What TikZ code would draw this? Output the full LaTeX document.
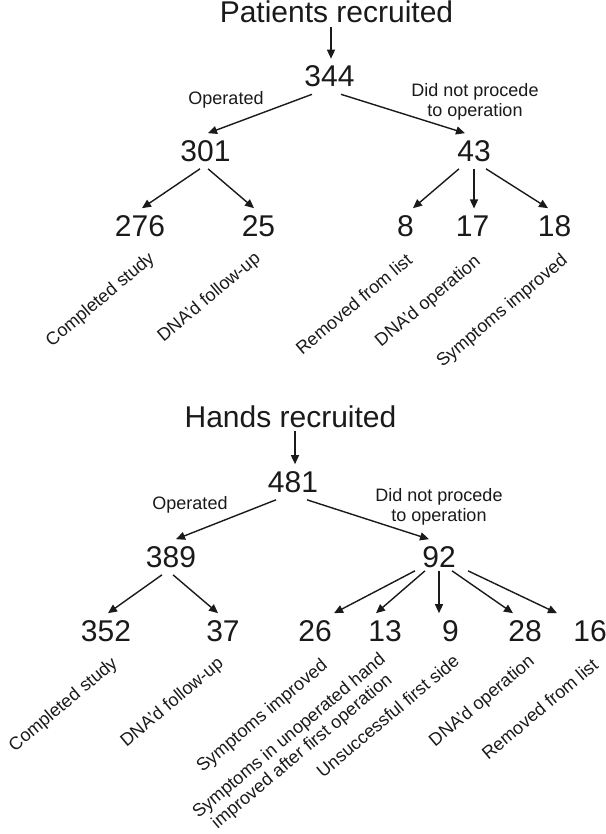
\documentclass[tikz,border=0pt]{standalone}
\usepackage{fontspec}
\setmainfont{Liberation Sans}
\usepackage{tikz}
\usetikzlibrary{arrows.meta}
\definecolor{Ink}{HTML}{1A1A1A}
\tikzset{
  num/.style={font=\fontsize{30}{36}\selectfont,inner sep=7pt,text=Ink},
  heading/.style={font=\fontsize{30}{36}\selectfont,inner sep=4pt,text=Ink,anchor=base},
  branch/.style={font=\fontsize{18}{20}\selectfont,inner sep=0pt,text=Ink,align=center},
  reason/.style={font=\fontsize{18}{20}\selectfont,inner sep=0pt,text=Ink,rotate=40,anchor=north east,align=center},
  flow/.style={draw=Ink,line width=1.4pt,-{Triangle[length=9pt,width=8pt]}},
}
\begin{document}
\begin{tikzpicture}[x=1pt,y=-1pt]
  \useasboundingbox[fill=white] (0,0) rectangle (605,834);
  % patients
  \node[heading] (ttl1) at (336.5,23) {Patients recruited};
  \node[num] (n344) at (329.5,76.5) {344};
  \node[branch,anchor=base] (op1) at (226,105) {Operated};
  \node[branch,anchor=north] (np1) at (475,83) {Did not procede\\to operation};
  \node[num] (n301) at (205.5,151) {301};
  \node[num] (n43) at (474,151) {43};
  \node[num] (n276) at (140,226) {276};
  \node[num] (n25) at (258.5,226) {25};
  \node[num] (n8) at (405.5,226) {8};
  \node[num] (n17) at (472.5,226) {17};
  \node[num] (n18) at (554.5,226) {18};
  \node[reason] (r276) at (147,250) {Completed study};
  \node[reason] (r25) at (253,250) {DNA'd follow-up};
  \node[reason] (r8) at (405,252) {Removed from list};
  \node[reason] (r17) at (473,253) {DNA'd operation};
  \node[reason] (r18) at (560,252) {Symptoms improved};
  \draw[flow] ([xshift=-5.5pt]ttl1.south) -- ([xshift=1.5pt]n344.north);
  \draw[flow] ([xshift=-17.5pt]n344.south) -- ([xshift=2.5pt]n301.north);
  \draw[flow] ([xshift=11.5pt]n344.south) -- ([xshift=-9pt]n43.north);
  \draw[flow] ([xshift=-5.5pt]n301.south) -- ([xshift=2pt]n276.north);
  \draw[flow] ([xshift=2.5pt]n301.south) -- ([xshift=-4.5pt]n25.north);
  \foreach \kid/\a/\b in {n8/-15/7.5,n17/0/1.5,n18/12/-6.5}
    \draw[flow] ([xshift=\a pt]n43.south) -- ([xshift=\b pt]\kid.north);

  % hands
  \node[heading] (ttl2) at (290.5,427) {Hands recruited};
  \node[num] (n481) at (293,482) {481};
  \node[branch,anchor=base] (op2) at (190,509) {Operated};
  \node[branch,anchor=north] (np2) at (439,488) {Did not procede\\to operation};
  \node[num] (n389) at (171,557) {389};
  \node[num] (n92) at (439,557) {92};
  \node[num] (n352) at (106,631) {352};
  \node[num] (n37) at (223,631) {37};
  \node[num] (n26) at (315,631) {26};
  \node[num] (n13) at (385,631) {13};
  \node[num] (n9) at (450.5,631) {9};
  \node[num] (n28) at (525,631) {28};
  \node[num] (n16) at (590,631) {16};
  \node[reason] (r352) at (110,655) {Completed study};
  \node[reason] (r37) at (216,655) {DNA'd follow-up};
  \node[reason] (r26) at (320,657) {Symptoms improved};
  \node[reason] (r13) at (378,651) {Symptoms in unoperated hand\\improved after first operation};
  \node[reason] (r9) at (452,653) {Unsuccessful first side};
  \node[reason] (r28) at (527,653) {DNA'd operation};
  \node[reason] (r16) at (591,657) {Removed from list};
  \draw[flow] ([xshift=4.5pt]ttl2.south) -- ([xshift=2pt]n481.north);
  \draw[flow] ([xshift=-17pt]n481.south) -- ([xshift=5pt]n389.north);
  \draw[flow] ([xshift=14pt]n481.south) -- ([xshift=-10pt]n92.north);
  \draw[flow] ([xshift=-9pt]n389.south) -- ([xshift=2pt]n352.north);
  \draw[flow] ([xshift=2pt]n389.south) -- ([xshift=-5pt]n37.north);
  \foreach \kid/\a/\b in {n26/-24/19,n13/-14/-9,n9/0/-11.5,n28/13/-12,n16/29/-33}
    \draw[flow] ([xshift=\a pt,yshift=4pt]n92.south) -- ([xshift=\b pt]\kid.north);
\end{tikzpicture}
\end{document}
